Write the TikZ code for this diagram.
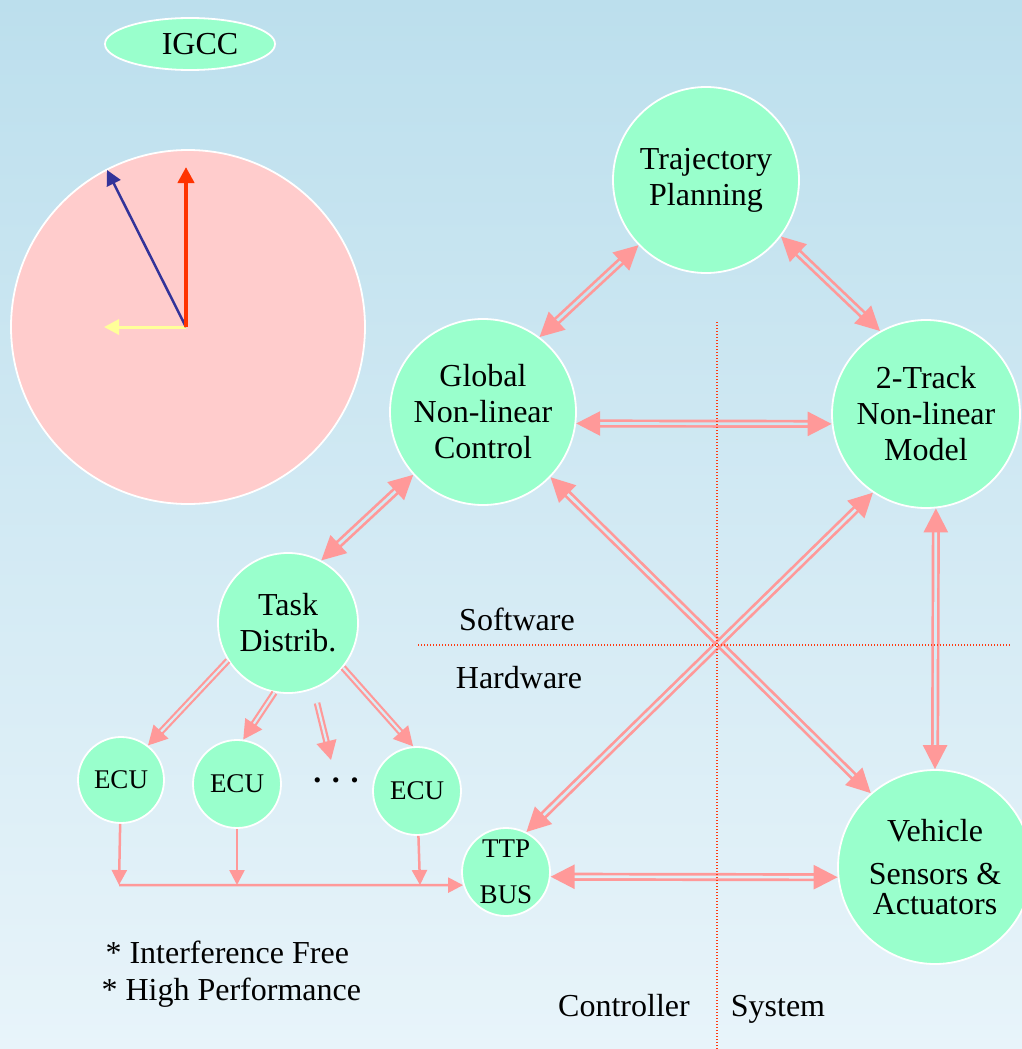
\documentclass[tikz,border=0pt]{standalone}
\usepackage{fontspec}
\setmainfont{Liberation Serif}
\usetikzlibrary{arrows.meta,shapes.geometric}
\definecolor{bgtop}{RGB}{188,223,237}
\definecolor{bgbot}{RGB}{232,244,250}
\definecolor{mint}{RGB}{153,255,204}
\definecolor{rosefill}{RGB}{255,204,204}
\definecolor{linkpink}{RGB}{255,153,153}
\definecolor{splitred}{RGB}{255,60,20}
\definecolor{hubred}{RGB}{255,51,0}
\definecolor{hubblue}{RGB}{51,51,153}
\definecolor{hubyellow}{RGB}{255,255,153}
\tikzset{
  unitnode/.style={
    circle,
    draw=white,
    line width=1.8pt,
    fill=mint,
    inner sep=0pt,
    align=center,
    minimum size=#1
  },
  bigtext/.style={font=\fontsize{32}{36}\selectfont},
  smalltext/.style={font=\fontsize{27}{30}\selectfont},
  linkarrow/.style={
    draw=linkpink, line width=2.7pt, double=#1, double distance=2.7pt,
    {Triangle[length=24pt,width=24pt]}-{Triangle[length=24pt,width=24pt]}
  },
  taskarrow/.style={
    draw=linkpink, line width=2.2pt, double=#1, double distance=2.2pt,
    -{Triangle[length=19pt,width=20pt]}
  },
  busarrow/.style={draw=linkpink, line width=2.5pt, -{Triangle[length=15pt,width=15pt]}},
  splitline/.style={draw=splitred, line width=1.5pt, dash pattern=on 1.2pt off 1.8pt}
}

\begin{document}
\begin{tikzpicture}[x=1pt, y=-1pt]
  \shade[top color=bgtop, bottom color=bgbot] (0,0) rectangle (1022,1049);
  \useasboundingbox (0,0) rectangle (1022,1049);

  % IGCC and the phasor disc
  \node[ellipse, draw=white, line width=1.8pt, fill=mint, minimum width=170pt, minimum height=52pt, inner sep=0pt, bigtext] (igcc) at (190,44) {\hspace*{20pt}IGCC};
  \node[circle, draw=white, line width=1.8pt, fill=rosefill, minimum size=354pt] (phasor) at (188,327) {};
  \coordinate (hub) at (186,327);
  \coordinate (tipyellow) at (104,327);
  \coordinate (tipblue) at (107,170);
  \coordinate (tipred) at (186,167);
  \draw[hubyellow, line width=3pt, -{Triangle[length=15pt,width=15pt]}] (hub) -- (tipyellow);
  \draw[hubblue, line width=2.5pt, -{Triangle[length=15pt,width=15pt]}] (hub) -- (tipblue);
  \draw[hubred, line width=4pt, -{Triangle[length=16pt,width=16pt]}] (hub) -- (tipred);

  % software / hardware units
  \node[unitnode=186pt, bigtext] (traj) at (706,180) {Trajectory\\Planning};
  \node[unitnode=186pt, bigtext] (glob) at (483,412) {Global\\Non-linear\\Control};
  \node[unitnode=188pt, bigtext] (track) at (926,414) {2-Track\\Non-linear\\Model};
  \node[unitnode=140pt, bigtext] (task) at (288,623) {Task\\Distrib.};
  \node[unitnode=194pt, bigtext] (veh) at (935,867) {Vehicle\\[7pt]Sensors \&\\[-6pt]Actuators};
  \node[unitnode=86pt, smalltext] (ecua) at (121,780) {ECU};
  \node[unitnode=88pt, smalltext] (ecub) at (237,784) {ECU};
  \node[unitnode=88pt, smalltext] (ecuc) at (417,791) {ECU};
  \node[unitnode=88pt, smalltext] (ttp) at (506,872) {TTP\\[16pt]BUS};
  \node[bigtext, anchor=base] (more) at (336,782) {\textbf{. . .}};

  \node[bigtext, anchor=base] (soft) at (517,630) {Software};
  \node[bigtext, anchor=base] (hard) at (519,688) {Hardware};
  \node[bigtext, anchor=base] (ctrl) at (624,1016) {Controller};
  \node[bigtext, anchor=base] (sys) at (778,1016) {System};
  \node[bigtext, anchor=base west] (notea) at (102,963) {* Interference Free};
  \node[bigtext, anchor=base west] (noteb) at (98,1000) {* High Performance};

  % links
  \draw[linkarrow=bgbot!28!bgtop] (glob.53) -- (traj.224);
  \draw[linkarrow=bgbot!27!bgtop] (traj.-37) -- (track.119);
  \draw[linkarrow=bgbot!40!bgtop] (glob.-7) -- (track.186);
  \draw[linkarrow=bgbot!50!bgtop] (task.62) -- (glob.222);
  \draw[linkarrow=bgbot!61!bgtop] (glob.-44) -- (veh.131);
  \draw[linkarrow=bgbot!63!bgtop] (track.236) -- (ttp.63);
  \draw[linkarrow=bgbot!61!bgtop] (track.-84) -- (veh.90);
  \draw[linkarrow=bgbot!84!bgtop] (ttp.-6) -- (veh.186);

  \coordinate (morefrom) at (317,703);
  \coordinate (moreto) at (331,760);
  \draw[taskarrow=bgbot!66!bgtop] (task.212) -- (ecua.52);
  \draw[taskarrow=bgbot!67!bgtop] (task.259) -- (ecub.82);
  \draw[taskarrow=bgbot!69!bgtop] (morefrom) -- (moreto);
  \draw[taskarrow=bgbot!66!bgtop] (task.-39) -- (ecuc.95);

  % bus
  \coordinate (tapa) at (119,885);
  \coordinate (tapb) at (237,885);
  \coordinate (tapc) at (420,885);
  \draw[busarrow] (ecua) -- (tapa);
  \draw[busarrow] (ecub) -- (tapb);
  \draw[busarrow] (ecuc) -- (tapc);
  \draw[busarrow] (tapa) -- (ttp.197);

  % controller/system and software/hardware split
  \draw[splitline] (717,322) -- (717,1049);
  \draw[splitline] (418,645) -- (1010,645);
\end{tikzpicture}
\end{document}
